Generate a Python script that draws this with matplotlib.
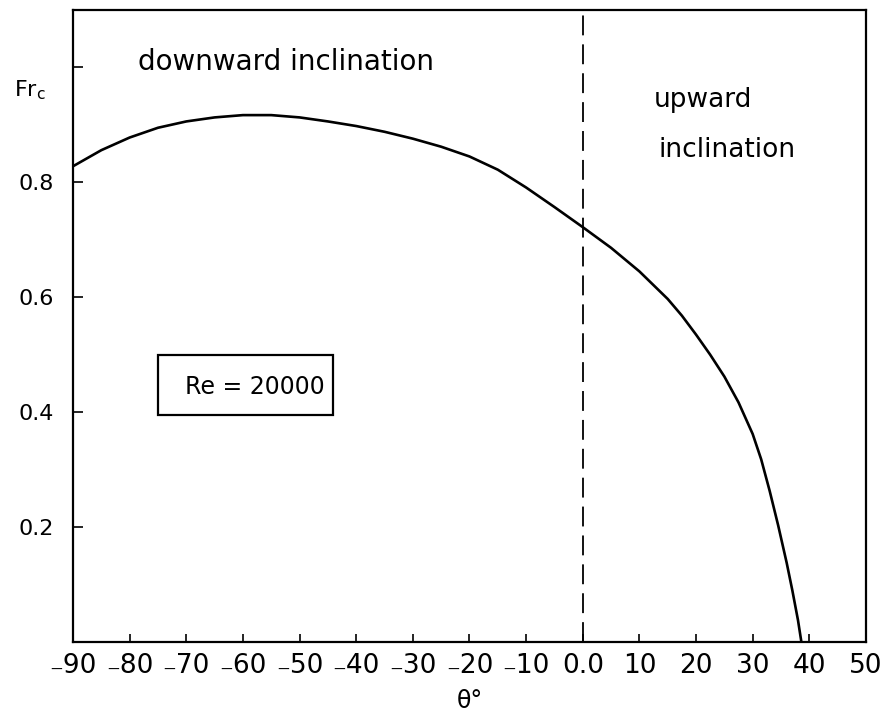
import matplotlib
matplotlib.use("Agg")
import matplotlib.pyplot as plt
from matplotlib.patches import Rectangle

# Critical Froude number vs. pipe inclination angle (Re = 20000)
theta = [-90, -85, -80, -75, -70, -65, -60, -55, -50, -45, -40, -35, -30,
         -25, -20, -15, -10, -5, 0, 5, 10, 15, 17.5, 20, 22.5, 25, 27.5,
         30, 31.5, 33, 34.5, 36, 37, 38, 38.6]
fr_c = [0.828, 0.856, 0.878, 0.895, 0.906, 0.913, 0.917, 0.917, 0.913, 0.906,
        0.898, 0.888, 0.876, 0.862, 0.845, 0.822, 0.791, 0.757, 0.722, 0.686,
        0.645, 0.597, 0.568, 0.535, 0.500, 0.462, 0.417, 0.362, 0.318, 0.263,
        0.203, 0.138, 0.090, 0.038, 0.0]

x_ticks = [-90, -80, -70, -60, -50, -40, -30, -20, -10, 0, 10, 20, 30, 40, 50]
x_tick_labels = ["\u208b90", "\u208b80", "\u208b70", "\u208b60", "\u208b50",
                 "\u208b40", "\u208b30", "\u208b20", "\u208b10", "0.0",
                 "10", "20", "30", "40", "50"]
y_ticks = [0.2, 0.4, 0.6, 0.8, 1.0]
y_tick_labels = ["0.2", "0.4", "0.6", "0.8", ""]

plt.rcParams["font.family"] = ["DejaVu Sans"]

fig = plt.figure(figsize=(8.82, 7.17), dpi=100)
ax = fig.add_axes([0.0828, 0.1046, 0.899, 0.8815])

ax.plot(theta, fr_c, color="black", lw=1.9, solid_joinstyle="round")
ax.axvline(0, color="black", lw=1.3, ls=(0, (11, 5)))

ax.set_xlim(-90, 50)
ax.set_ylim(0, 1.1)

ax.set_xticks(x_ticks)
ax.set_xticklabels(x_tick_labels, fontsize=19)
ax.set_yticks(y_ticks)
ax.set_yticklabels(y_tick_labels, fontsize=16)
ax.tick_params(axis="x", direction="in", length=6, width=1.2, pad=8)
ax.tick_params(axis="y", direction="in", length=7, width=1.2, pad=14)
for s in ax.spines.values():
    s.set_linewidth(1.6)

ax.set_xlabel("\u03b8\u00b0", fontsize=17, labelpad=7)

ax.text(-0.054, 0.873, r"Fr$_\mathregular{c}$", transform=ax.transAxes,
        fontsize=16, ha="center", va="center")

# region annotations
ax.text(0.082, 0.905, "downward inclination", transform=ax.transAxes,
        fontsize=20, ha="left", va="baseline")
ax.text(0.733, 0.847, "upward", transform=ax.transAxes, fontsize=19,
        ha="left", va="baseline")
ax.text(0.738, 0.767, "inclination", transform=ax.transAxes, fontsize=19,
        ha="left", va="baseline")

ax.add_patch(Rectangle((0.107, 0.359), 0.221, 0.095, transform=ax.transAxes,
                       fill=False, lw=1.6, ec="black"))
ax.text(0.2295, 0.4035, "Re = 20000", transform=ax.transAxes, fontsize=17,
        ha="center", va="center")

fig.savefig("out.png", dpi=100)
